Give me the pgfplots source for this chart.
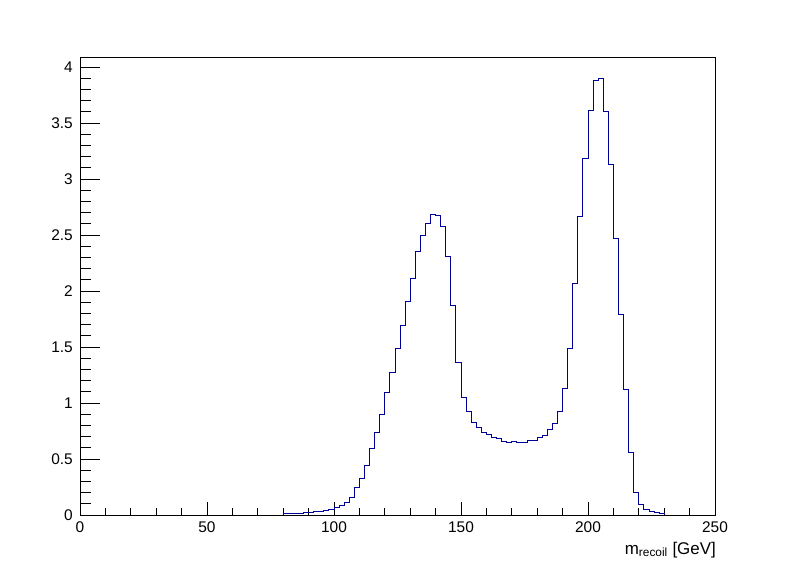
\documentclass[border=0pt]{standalone}
\usepackage{fontspec}
\setmainfont{Liberation Sans}
\usepackage{pgfplots}
\pgfplotsset{compat=1.18}

\definecolor{histblue}{RGB}{0,0,153}

\begin{document}
\begin{tikzpicture}
% canvas 796x572, frame at (80,57)-(715,515)
\path[use as bounding box] (-80bp,-57bp) rectangle (716bp,515bp);
\begin{axis}[
    at={(0,0)}, anchor=south west,
    scale only axis,
    width=635bp, height=458bp,
    xmin=0, xmax=250,
    ymin=0, ymax=4.0893,
    xtick={0,50,...,250},
    ytick={0,0.5,...,4},
    minor x tick num=4,
    minor y tick num=4,
    tick align=inside,
    xtick pos=bottom, ytick pos=left,
    x tick style={/pgfplots/major tick length=13bp,/pgfplots/minor tick length=7bp},
    y tick style={/pgfplots/major tick length=19.5bp,/pgfplots/minor tick length=10.5bp},
    tick style={black, line width=0.8pt},
    axis line style={black, line width=0.8pt},
    /pgf/number format/assume math mode=true,
    ticklabel style={font=\fontsize{15.5}{17}\selectfont},
    xticklabel style={anchor=north, inner sep=0pt, yshift=-7bp},
    yticklabel style={anchor=east, inner sep=0pt, xshift=-7bp},
    xlabel={m\textsubscript{recoil} [GeV]},
    xlabel style={at={(rel axis cs:1,0)}, anchor=base east, inner sep=0pt,
                  yshift=-39bp, xshift=1bp, font=\fontsize{17}{20}\selectfont},
    clip=true,
]
\addplot[const plot, histblue, line width=0.9pt] coordinates {
(0,0)
(80,0.01)(82,0.01)(84,0.01)(86,0.01)
(88,0.024)(90,0.024)
(92,0.033)(94,0.033)
(96,0.042)(98,0.05)(100,0.068)(102,0.086)(104,0.113)(106,0.158)
(108,0.247)(110,0.328)(112,0.444)(114,0.595)(116,0.738)(118,0.90)
(120,1.095)(122,1.274)(124,1.488)(126,1.694)(128,1.911)(130,2.113)
(132,2.354)(134,2.50)(136,2.604)(138,2.685)(140,2.676)(142,2.58)
(144,2.31)(146,1.872)(148,1.363)
(150,1.051)(152,0.926)(154,0.828)(156,0.783)(158,0.738)(160,0.72)
(162,0.694)(164,0.681)(166,0.658)(168,0.649)(170,0.658)(172,0.649)
(174,0.649)(176,0.667)(178,0.667)(180,0.694)(182,0.711)(184,0.765)
(186,0.818)(188,0.926)
(190,1.134)(192,1.488)(194,2.063)(196,2.667)(198,3.185)(200,3.613)
(202,3.881)(204,3.899)(206,3.604)(208,3.131)(210,2.47)(212,1.795)
(214,1.125)(216,0.5625)(218,0.205)(220,0.095)(222,0.054)(224,0.036)
(226,0.027)(228,0.018)(230,0)(250,0)
};
\end{axis}
\end{tikzpicture}
\end{document}
